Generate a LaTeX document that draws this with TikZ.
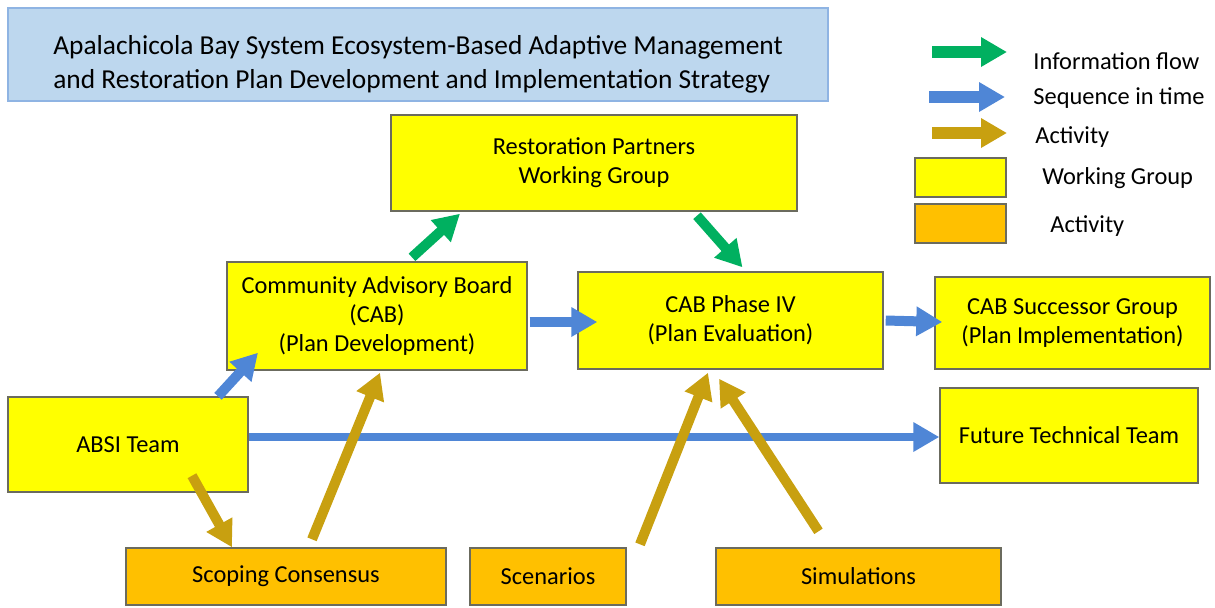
\documentclass[tikz,border=0pt]{standalone}
\usepackage{fontspec}
\setmainfont{Carlito}
\usetikzlibrary{arrows.meta,positioning}

\definecolor{wgyellow}{HTML}{FFFF00}
\definecolor{actorange}{HTML}{FFC000}
\definecolor{boxline}{HTML}{6B6B5E}
\definecolor{titlefill}{HTML}{BDD7EE}
\definecolor{titleline}{HTML}{8FB4E3}
\definecolor{infogreen}{HTML}{00B060}
\definecolor{seqblue}{HTML}{4F86D6}
\definecolor{actgold}{HTML}{C8A010}

\begin{document}
\begin{tikzpicture}
  [
  x=0.5pt, y=-0.5pt,
  font=\fontsize{12.2}{14.5}\selectfont,
  wgnode/.style={rectangle, draw=boxline, line width=0.7pt, fill=wgyellow, align=center, inner sep=0pt},
  actnode/.style={wgnode, fill=actorange},
  flowarrow/.style={line width=5pt, -{Triangle[width=14pt,length=13pt]}},
  infoarrow/.style={flowarrow, draw=infogreen},
  seqarrow/.style={flowarrow, draw=seqblue},
  actarrow/.style={flowarrow, draw=actgold}
  ]

  \useasboundingbox (0,0) rectangle (1215,607);

  \node[rectangle, draw=titleline, fill=titlefill, line width=0.7pt,
        minimum width=410pt, minimum height=46.5pt] (title) at (418,54.5) {};
  \node[align=left, inner sep=0pt, font=\fontsize{13.7}{17}\selectfont] (titletext) at ([yshift=-5pt]title.center)
    {Apalachicola Bay System Ecosystem-Based Adaptive Management\\and Restoration Plan Development and Implementation Strategy};

  % working groups
  \node[wgnode, minimum width=203pt, minimum height=48pt] (rp) at (594,163) {Restoration Partners\\Working Group};
  \node[wgnode, minimum width=150pt, minimum height=54pt] (cab) at (377,316) {Community Advisory Board\\(CAB)\\(Plan Development)};
  \node[wgnode, minimum width=152.5pt, minimum height=48.5pt] (cab4) at (730.5,320.5) {CAB Phase IV\\(Plan Evaluation)};
  \node[wgnode, minimum width=137.5pt, minimum height=46pt] (succ) at (1072.5,323) {CAB Successor Group\\(Plan Implementation)};
  \node[wgnode, minimum width=120pt, minimum height=47.5pt] (absi) at (128,444.5) {ABSI Team};
  \node[wgnode, minimum width=129pt, minimum height=47.5pt] (ftt) at (1069,435.5) {Future Technical Team};

  % activities
  \node[actnode, minimum width=160pt, minimum height=28.5pt] (scop) at (286,576.5) {Scoping Consensus};
  \node[actnode, minimum width=78pt, minimum height=28.5pt] (scen) at (548,576.5) {Scenarios};
  \node[actnode, minimum width=142.5pt, minimum height=28.5pt] (sim) at (858.5,576.5) {Simulations};

  % connectors
  \draw[infoarrow] ([xshift=17.5pt,yshift=2pt]cab.north) -- ([xshift=-67pt,yshift=-1pt]rp.south);
  \draw[infoarrow] ([xshift=51.5pt,yshift=-2pt]rp.south) -- ([xshift=6pt,yshift=2pt]cab4.north);
  \draw[seqarrow] ([xshift=1pt,yshift=-3pt]cab.east) -- ([xshift=10pt,yshift=-0.75pt]cab4.west);
  \draw[seqarrow] ([xshift=1pt]cab4.east) -- ([xshift=4pt,yshift=0.5pt]succ.west);
  \draw[seqarrow] ([xshift=45pt]absi.north) -- ([xshift=-59.5pt,yshift=9pt]cab.south);
  \draw[seqarrow, line width=4pt] ([yshift=3.75pt]absi.east) -- ([yshift=-0.75pt]ftt.west);
  \draw[actarrow] ([xshift=32pt,yshift=8.5pt]absi.south) -- ([xshift=-27pt]scop.north);
  \draw[actarrow] ([xshift=13pt,yshift=4pt]scop.north) -- ([xshift=1.5pt,yshift=-1pt]cab.south);
  \draw[actarrow] ([xshift=46pt,yshift=1.5pt]scen.north) -- ([xshift=-11.25pt,yshift=-1.5pt]cab4.south);
  \draw[actarrow] ([xshift=-20pt,yshift=8pt]sim.north) -- ([xshift=-5.75pt,yshift=-4.5pt]cab4.south);

  % legend
  \coordinate (lg1s) at (932,52);  \coordinate (lg1e) at (1007,52);
  \coordinate (lg2s) at (929,97);  \coordinate (lg2e) at (1005,97);
  \coordinate (lg3s) at (932,133); \coordinate (lg3e) at (1007,133);
  \draw[infoarrow, line width=6pt] (lg1s) -- (lg1e);
  \draw[seqarrow, line width=6pt] (lg2s) -- (lg2e);
  \draw[actarrow, line width=6pt] (lg3s) -- (lg3e);
  \node[wgnode, minimum width=45.5pt, minimum height=19.5pt] (lgwg) at (960.5,177.5) {};
  \node[actnode, minimum width=45.5pt, minimum height=19.5pt] (lgact) at (960.5,223.5) {};

  \node[anchor=west, inner sep=0pt] (lt1) at (1033,61) {Information flow};
  \node[anchor=west, inner sep=0pt] (lt2) at (1033,98) {Sequence in time};
  \node[anchor=west, inner sep=0pt] (lt3) at (1035,137) {Activity};
  \node[anchor=west, inner sep=0pt] (lt4) at (1042,178) {Working Group};
  \node[anchor=west, inner sep=0pt] (lt5) at (1050,226) {Activity};
\end{tikzpicture}
\end{document}
